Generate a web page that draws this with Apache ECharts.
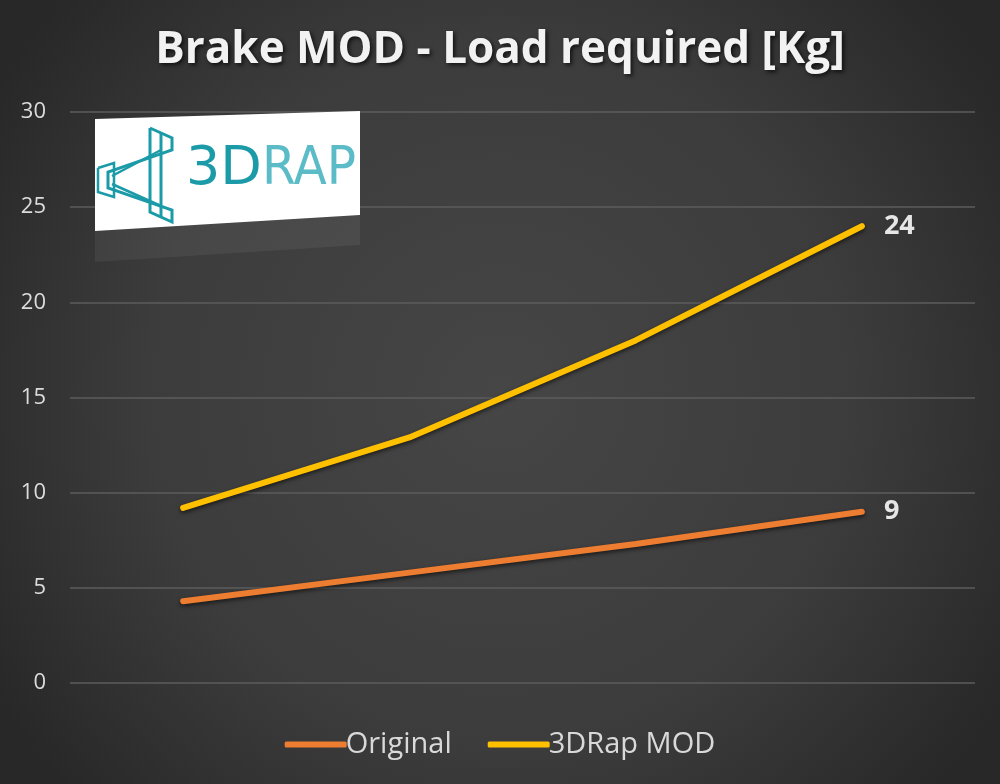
<!DOCTYPE html>
<html><head><meta charset="utf-8">
<script src="https://cdn.jsdelivr.net/npm/echarts@6/dist/echarts.min.js"></script>
<style>html,body{margin:0;padding:0;background:#333;}#c{width:1000px;height:784px;}</style>
</head><body><div id="c"></div>
<script>
var categories = ['A', 'B', 'C', 'D'];
var originalValues = [4.3, 5.8, 7.3, 9.0];
var modValues = [9.2, 12.9, 18.0, 24.0];
var yTicks = [0, 5, 10, 15, 20, 25, 30];
var seriesNames = ['Original', '3DRap MOD'];

var chart = echarts.init(document.getElementById('c'));
var endLbl = {show:true,distance:22,formatter:function(p){return String(Math.round(p.value));},color:'#e6e6e6',fontSize:27,fontWeight:'bold',fontFamily:'Open Sans'};
var teal = '#1b9aa8';
function z(o){o.z=102;return o;}
var option = {
  backgroundColor: {type:'radial',x:0.5,y:0.5,r:0.75,colorStops:[{offset:0,color:'#464646'},{offset:0.6,color:'#3c3c3c'},{offset:1,color:'#282828'}]},
  title: {text:'Brake MOD - Load required [Kg]',left:'center',top:23,textStyle:{color:'#f2f2f2',fontSize:44,fontWeight:'bold',fontFamily:'Open Sans',textShadowColor:'rgba(0,0,0,0.7)',textShadowBlur:4,textShadowOffsetX:2,textShadowOffsetY:2}},
  grid: {left:70,right:25,top:112,bottom:101},
  legend: {bottom:20,left:'center',itemWidth:62,itemHeight:6,itemGap:36,icon:'roundRect',data:seriesNames,textStyle:{color:'#d9d9d9',fontSize:29,fontFamily:'Open Sans',padding:[0,0,0,-6]}},
  xAxis: {type:'category',data:categories,boundaryGap:true,axisLine:{show:false},axisTick:{show:false},axisLabel:{show:false}},
  yAxis: {type:'value',min:yTicks[0],max:yTicks[yTicks.length-1],interval:5,
    axisLine:{show:false},axisTick:{show:false},
    axisLabel:{color:'#dcdcdc',fontSize:22,fontFamily:'Open Sans',margin:24},
    splitLine:{lineStyle:{color:'#5c5c5c',width:1.5}}},
  series: [
    {name:seriesNames[0],type:'line',data:originalValues,symbol:'none',endLabel:endLbl,lineStyle:{color:'#ED7D31',width:6,cap:'round',shadowColor:'rgba(0,0,0,0.6)',shadowBlur:4,shadowOffsetY:2},itemStyle:{color:'#ED7D31'}},
    {name:seriesNames[1],type:'line',data:modValues,symbol:'none',endLabel:endLbl,lineStyle:{color:'#FFC000',width:6,cap:'round',shadowColor:'rgba(0,0,0,0.6)',shadowBlur:4,shadowOffsetY:2},itemStyle:{color:'#FFC000'}}
  ],
  graphic: [
    {type:'polygon',z:100,shape:{points:[[95,119],[360,111],[360,215],[95,231]]},style:{fill:'#ffffff'}},
    {type:'polygon',z:99,shape:{points:[[95,231],[360,215],[360,245],[95,262]]},style:{fill:'rgba(255,255,255,0.06)'}},
    z({type:'polyline',shape:{points:[[150,128],[172,138],[172,150],[108,172],[108,188],[172,210],[172,222],[150,212],[150,128]]},style:{stroke:teal,lineWidth:3,fill:null}}),
    z({type:'polyline',shape:{points:[[161,133],[161,217]]},style:{stroke:teal,lineWidth:3}}),
    z({type:'polyline',shape:{points:[[112,176],[161,150]]},style:{stroke:teal,lineWidth:2.5}}),
    z({type:'polyline',shape:{points:[[112,184],[161,206]]},style:{stroke:teal,lineWidth:2.5}}),
    z({type:'polyline',shape:{points:[[98,168],[114,163],[114,197],[98,192],[98,168]]},style:{stroke:teal,lineWidth:2.5,fill:null}}),
    z({type:'text',left:186,top:143,style:{text:'3D',fill:teal,fontSize:54,fontFamily:'DejaVu Sans'}}),
    z({type:'text',left:262,top:143,style:{text:'RAP',fill:'#5bbcc8',fontSize:54,fontFamily:'DejaVu Sans Condensed'}})
  ]
};
chart.setOption(option);
</script></body></html>
